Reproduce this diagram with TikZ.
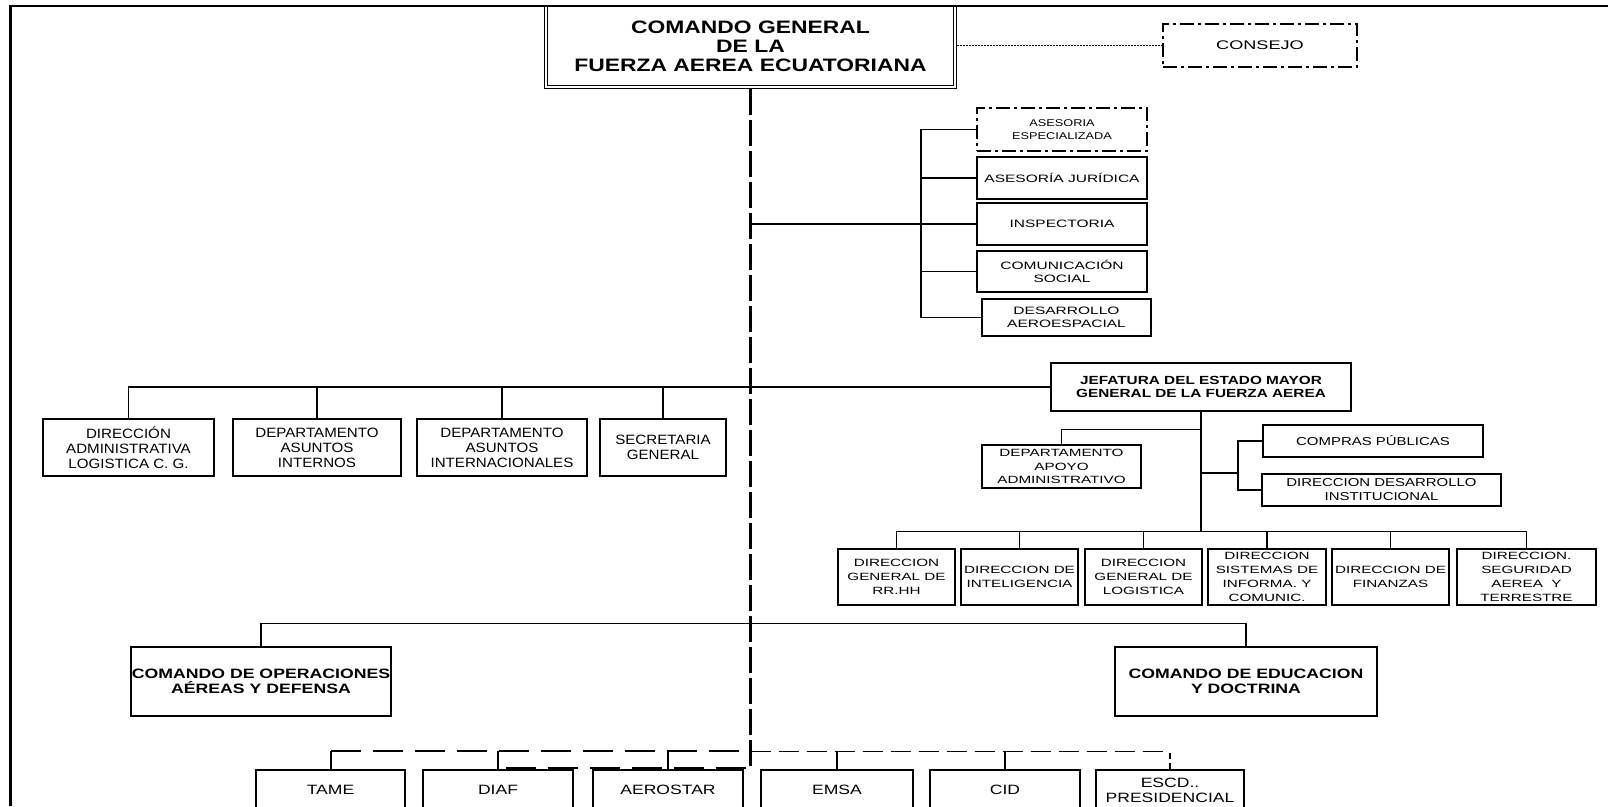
\documentclass[tikz,border=0pt]{standalone}
\usepackage{fontspec}
\setmainfont{Liberation Sans}
\newfontfamily\fsA{Liberation Sans}[FakeStretch=1.3]
\newfontfamily\fsB{Liberation Sans}[FakeStretch=1.45]
\newfontfamily\fsC{Liberation Sans}[FakeStretch=1.12]
\newfontfamily\fsT{Liberation Sans}[FakeStretch=1.27]
\newcommand\myfs[2]{\fontsize{#1}{#2}\selectfont}
\begin{document}
\begin{tikzpicture}[x=1pt,y=-1pt,
 bx/.style={draw, line width=1.1pt, inner sep=0pt, align=center},
 ln/.style={line width=1.1pt},
 dd/.style={dash pattern=on 14pt off 4pt on 3pt off 4pt, line width=1.8pt},
 ttl/.style={font=\fsT\bfseries\myfs{18}{19}},
 consfont/.style={font=\fsB\myfs{12.5}{14}},
 adv/.style={font=\fsB\myfs{10.7}{13.3}},
 adv2/.style={font=\fsA\myfs{9.8}{13.3}},
 jf/.style={font=\fsA\bfseries\myfs{11.8}{13.5}},
 smf/.style={font=\fsB\myfs{10.5}{13.3}},
 smg/.style={font=\fsA\myfs{11.5}{14}},
 lrf/.style={font=\fsC\myfs{13.5}{15}},
 drf/.style={font=\fsB\myfs{10.5}{14}},
 cmdf/.style={font=\fsA\bfseries\myfs{13.6}{15}},
 btf/.style={font=\fsA\myfs{13.5}{15}},
 bdl/.style={line width=2pt, dash pattern=on 30pt off 12pt},
 bds/.style={line width=1.8pt, dash pattern=on 20pt off 8pt},
 dbl/.style={double, double distance=2.2pt, line width=0.9pt},
]
\useasboundingbox (0,0) rectangle (1608,806);
\clip (0,0) rectangle (1608,806);
\fill[white] (0,0) rectangle (1608,806);

% main
\node[inner sep=0pt, align=center, ttl, minimum width=409pt, minimum height=80pt] (main) at (750.5,46.5) {COMANDO GENERAL\\DE LA\\FUERZA AEREA ECUATORIANA};
\draw[dbl] (main.north west) -- (main.south west) -- (main.south east) -- (main.north east);
\node[bx, dd, consfont, minimum width=194pt, minimum height=43pt] (cons) at (1260,45.5) {CONSEJO};
\draw[line width=1.6pt, dash pattern=on 1.6pt off 1.4pt] ([xshift=2pt]main.east |- cons.west) -- (cons.west);

% frame
\draw[line width=2.5pt] (9,6.2) -- (1608,6.2);
\draw[line width=3pt] (10.5,5) -- (10.5,806);

% advisory
\node[bx, dd, adv2, minimum width=170pt, minimum height=43pt] (ase) at (1062,129.5) {ASESORIA\\ESPECIALIZADA};
\node[bx, adv, minimum width=170pt, minimum height=42pt] (jur) at (1062,178) {ASESORÍA JURÍDICA};
\node[bx, adv, minimum width=170pt, minimum height=42pt] (insp) at (1062,224) {INSPECTORIA};
\node[bx, adv, minimum width=170pt, minimum height=41pt] (com) at (1062,271.5) {COMUNICACIÓN\\SOCIAL};
\node[bx, adv, minimum width=169pt, minimum height=37pt] (des) at (1066.5,317.5) {DESARROLLO\\AEROESPACIAL};
\coordinate (ab) at (921,0);
\draw[ln] (ase.west) -| (ab |- des.west) -- (des.west);
\draw[ln] (jur.west -| ab) -- (jur.west);
\draw[ln] (com.west -| ab) -- (com.west);
\draw[ln] (insp.west -| main.south) -- (insp.west);

% left row
\node[bx, lrf, minimum width=171pt, minimum height=57pt] (b1) at (128.5,447.5) {DIRECCIÓN\\ADMINISTRATIVA\\LOGISTICA C. G.};
\node[bx, lrf, minimum width=168pt, minimum height=57pt] (b2) at (317,447.5) {DEPARTAMENTO\\ASUNTOS\\INTERNOS};
\node[bx, lrf, minimum width=170pt, minimum height=57pt] (b3) at (502,447.5) {DEPARTAMENTO\\ASUNTOS\\INTERNACIONALES};
\node[bx, lrf, minimum width=126pt, minimum height=57pt] (b4) at (663,447.5) {SECRETARIA\\GENERAL};
\node[bx, jf, minimum width=300pt, minimum height=48pt] (jef) at (1201,387) {JEFATURA DEL ESTADO MAYOR\\GENERAL DE LA FUERZA AEREA};
\draw[ln] (b1.north) |- (jef.west);
\draw[ln] (b2.north) -- (b2.north |- jef.west);
\draw[ln] (b3.north) -- (b3.north |- jef.west);
\draw[ln] (b4.north) -- (b4.north |- jef.west);

% jefatura subs
\node[bx, smf, minimum width=159pt, minimum height=43pt] (apo) at (1061.5,466.5) {DEPARTAMENTO\\APOYO\\ADMINISTRATIVO};
\draw[ln] (apo.north) |- ([yshift=-18pt]jef.south);
\node[bx, smg, minimum width=220pt, minimum height=32pt] (cmp) at (1373,441) {COMPRAS PÚBLICAS};
\node[bx, smg, minimum width=239pt, minimum height=32pt] (dds) at (1381.5,490) {DIRECCION DESARROLLO\\INSTITUCIONAL};
\coordinate (sb) at (1238,473);
\draw[ln] (cmp.west) -| (sb |- dds.west) -- (dds.west);
\draw[ln] (jef.south |- sb) -- (sb);

% direcciones
\node[bx, drf, minimum width=117pt, minimum height=56pt] (d1) at (896.5,577) {DIRECCION\\GENERAL DE\\RR.HH};
\node[bx, drf, minimum width=117pt, minimum height=56pt] (d2) at (1019.5,577) {DIRECCION DE\\INTELIGENCIA};
\node[bx, drf, minimum width=117pt, minimum height=56pt] (d3) at (1143.5,577) {DIRECCION\\GENERAL DE\\LOGISTICA};
\node[bx, drf, minimum width=118pt, minimum height=56pt] (d4) at (1267,577) {DIRECCION\\SISTEMAS DE\\INFORMA. Y\\COMUNIC.};
\node[bx, drf, minimum width=117pt, minimum height=56pt] (d5) at (1390.5,577) {DIRECCION DE\\FINANZAS};
\node[bx, drf, minimum width=139pt, minimum height=56pt] (d6) at (1526.5,577) {DIRECCION.\\SEGURIDAD\\AEREA\ \ Y\\TERRESTRE};
\path (d1.north) ++(0,-17) coordinate (drb);
\draw[ln] (d1.north) -- (drb) -| (d6.north);
\draw[ln] (d2.north) -- (d2.north |- drb);
\draw[ln] (d3.north) -- (d3.north |- drb);
\draw[ln] (d4.north) -- (d4.north |- drb);
\draw[ln] (d5.north) -- (d5.north |- drb);
\draw[ln] (jef.south) -- (jef.south |- drb);

% comandos
\node[bx, cmdf, minimum width=260pt, minimum height=69pt] (cops) at (261,681.5) {COMANDO DE OPERACIONES\\AÉREAS Y DEFENSA};
\node[bx, cmdf, minimum width=262pt, minimum height=69pt] (cedu) at (1246,681.5) {COMANDO DE EDUCACION\\Y DOCTRINA};
\draw[ln] (cops.north) -- ++(0,-23) -| (cedu.north);

% bottom row
\node[bx, btf, minimum width=149pt, minimum height=40pt] (tame) at (330.5,790) {TAME};
\node[bx, btf, minimum width=150pt, minimum height=40pt] (diaf) at (498,790) {DIAF};
\node[bx, btf, minimum width=150pt, minimum height=40pt] (aero) at (668,790) {AEROSTAR};
\node[bx, btf, minimum width=152pt, minimum height=40pt] (emsa) at (837,790) {EMSA};
\node[bx, btf, minimum width=150pt, minimum height=40pt] (cid) at (1005,790) {CID};
\node[bx, btf, minimum width=148pt, minimum height=40pt] (escd) at (1170,790) {ESCD..\\PRESIDENCIAL};
\draw[line width=2pt] (tame.north) -- ++(0,-18) coordinate (tb);
\draw[bdl] (tb) -- (tb -| main.south);
\draw[bds] (tb -| main.south) -- (tb -| escd.north);
\draw[line width=1.8pt, dash pattern=on 6pt off 4pt] (escd.north) -- (escd.north |- tb);
\draw[line width=1.8pt] (diaf.north) -- (diaf.north |- tb);
\draw[line width=1.8pt] (aero.north) -- (aero.north |- tb);
\draw[line width=1.8pt] (emsa.north) -- (emsa.north |- tb);
\draw[line width=1.8pt] (cid.north) -- (cid.north |- tb);
\coordinate (ls) at (506,768);
\draw[bdl] (ls) -- (ls -| main.south);

% main vertical
\draw[line width=2.6pt, dash pattern=on 26pt off 5pt] ([yshift=-2pt]main.south) -- (main.south |- ls);
\end{tikzpicture}
\end{document}
